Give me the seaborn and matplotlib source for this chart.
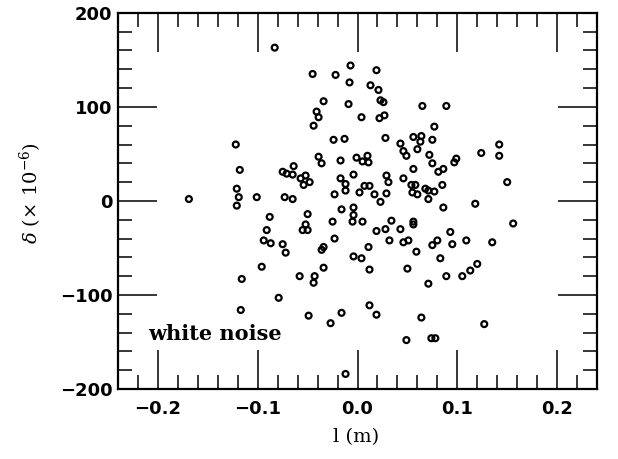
import matplotlib
matplotlib.use("Agg")
import matplotlib.pyplot as plt
from matplotlib.ticker import MultipleLocator
import seaborn as sns
import pandas as pd

# positions (l in m, delta in units of 1e-6)
l_m = [
    -0.083, -0.122, -0.118, -0.064, -0.075, -0.071, -0.065, -0.121, -0.169, -0.119,
    -0.101, -0.121, -0.073, -0.065, -0.007, 0.019, -0.045, -0.022, -0.008, 0.013,
    0.021, -0.034, 0.023, 0.026, -0.009, -0.041, -0.039, 0.004, 0.022, 0.027,
    -0.044, -0.024, -0.013, 0.028, 0.056, 0.043, 0.046, 0.049, -0.039, -0.036,
    -0.017, -0.001, 0.005, 0.010, 0.011, 0.056, -0.052, -0.048, -0.054, -0.057,
    -0.017, -0.004, -0.012, -0.012, 0.029, 0.031, 0.046, 0.054, 0.058, 0.060,
    0.055, 0.007, 0.012, 0.002, 0.017, 0.029, -0.023, 0.023, -0.016, -0.004,
    0.065, 0.089, 0.077, 0.064, 0.063, 0.075, 0.060, 0.072, 0.142, 0.124,
    0.142, 0.099, 0.097, 0.075, 0.086, 0.081, 0.085, 0.068, 0.071, 0.077,
    0.071, 0.150, 0.086, 0.118, -0.088, -0.091, -0.094, -0.087, -0.075, -0.072,
    -0.096, -0.116, -0.079, -0.117, -0.050, -0.004, -0.005, 0.005, -0.025, -0.052,
    -0.055, -0.050, 0.034, 0.019, 0.028, 0.043, 0.056, 0.056, -0.023, -0.036,
    -0.034, 0.011, 0.032, 0.046, 0.051, 0.059, -0.004, 0.004, 0.012, -0.034,
    -0.058, -0.043, -0.044, 0.050, 0.012, 0.019, -0.049, -0.016, -0.027, 0.049,
    -0.012, 0.156, 0.093, 0.080, 0.075, 0.095, 0.109, 0.135, 0.083, 0.120,
    0.113, 0.105, 0.089, 0.071, 0.064, 0.127, 0.074, 0.078,
]
delta = [
    163, 60, 33, 37, 31, 29, 28, 13, 2, 4,
    4, -5, 4, 2, 144, 139, 135, 134, 126, 123,
    118, 106, 107, 105, 103, 95, 89, 89, 88, 91,
    80, 65, 66, 67, 68, 61, 53, 48, 47, 40,
    43, 46, 42, 48, 41, 34, 27, 20, 17, 24,
    24, 28, 18, 11, 27, 20, 24, 17, 17, 7,
    9, 16, 16, 9, 7, 8, 7, -1, -9, -7,
    101, 101, 79, 69, 63, 65, 55, 49, 60, 51,
    48, 45, 41, 40, 34, 31, 17, 13, 11, 10,
    2, 20, -7, -3, -17, -31, -42, -45, -46, -55,
    -70, -83, -103, -116, -14, -15, -22, -22, -22, -25,
    -31, -31, -21, -32, -30, -30, -22, -25, -40, -52,
    -49, -49, -42, -44, -42, -54, -59, -61, -73, -71,
    -80, -80, -87, -72, -111, -121, -122, -119, -130, -148,
    -184, -24, -33, -42, -47, -46, -42, -44, -61, -67,
    -74, -80, -80, -88, -124, -131, -146, -146,
]

x_ticks = [-0.2, -0.1, 0.0, 0.1, 0.2]
y_ticks = [-200, -100, 0, 100, 200]

df = pd.DataFrame({"l": l_m, "delta": delta})

sns.set_style("ticks")
plt.rcParams["font.family"] = ["DejaVu Sans"]
plt.rcParams["mathtext.fontset"] = "dejavuserif"
plt.rcParams["text.color"] = "black"
plt.rcParams["axes.labelcolor"] = "black"
plt.rcParams["xtick.color"] = "black"
plt.rcParams["ytick.color"] = "black"

fig = plt.figure(figsize=(6.18, 4.59), dpi=100)
ax = fig.add_axes([0.191, 0.1525, 0.775, 0.8195])

sns.scatterplot(data=df, x="l", y="delta", ax=ax, marker="o", s=18,
                facecolor="none", edgecolor="black", linewidth=1.6)

ax.set_xlim(-0.24, 0.24)
ax.set_ylim(-200, 200)
ax.set_xticks(x_ticks)
ax.set_yticks(y_ticks)
ax.set_xticklabels([f"{v:.1f}".replace("-", "\u2212") for v in x_ticks])
ax.set_yticklabels([str(v).replace("-", "\u2212") for v in y_ticks])
ax.xaxis.set_minor_locator(MultipleLocator(0.02))
ax.yaxis.set_minor_locator(MultipleLocator(20))
ax.tick_params(which="both", direction="in", top=True, right=True,
               width=1.1, color="black")
ax.tick_params(which="major", length=28, labelsize=13)
ax.tick_params(axis="x", which="major", pad=8)
ax.tick_params(axis="y", which="major", pad=4)
ax.tick_params(which="minor", length=10)
for lab in ax.get_xticklabels() + ax.get_yticklabels():
    lab.set_fontweight("bold")
for sp in ax.spines.values():
    sp.set_linewidth(1.6)
    sp.set_color("black")

ax.set_xlabel("l (m)", family="DejaVu Serif", fontsize=14)
ax.set_ylabel(r"$\delta$ ($\times$ 10$^{-6}$)", family="DejaVu Serif",
              fontsize=14)
ax.xaxis.set_label_coords(0.497, -0.105)
ax.yaxis.set_label_coords(-0.155, 0.52)
ax.text(-0.21, -142, "white noise", family="DejaVu Serif", fontweight="bold",
        fontsize=15, va="center", ha="left")

fig.savefig("out.png", dpi=100)
